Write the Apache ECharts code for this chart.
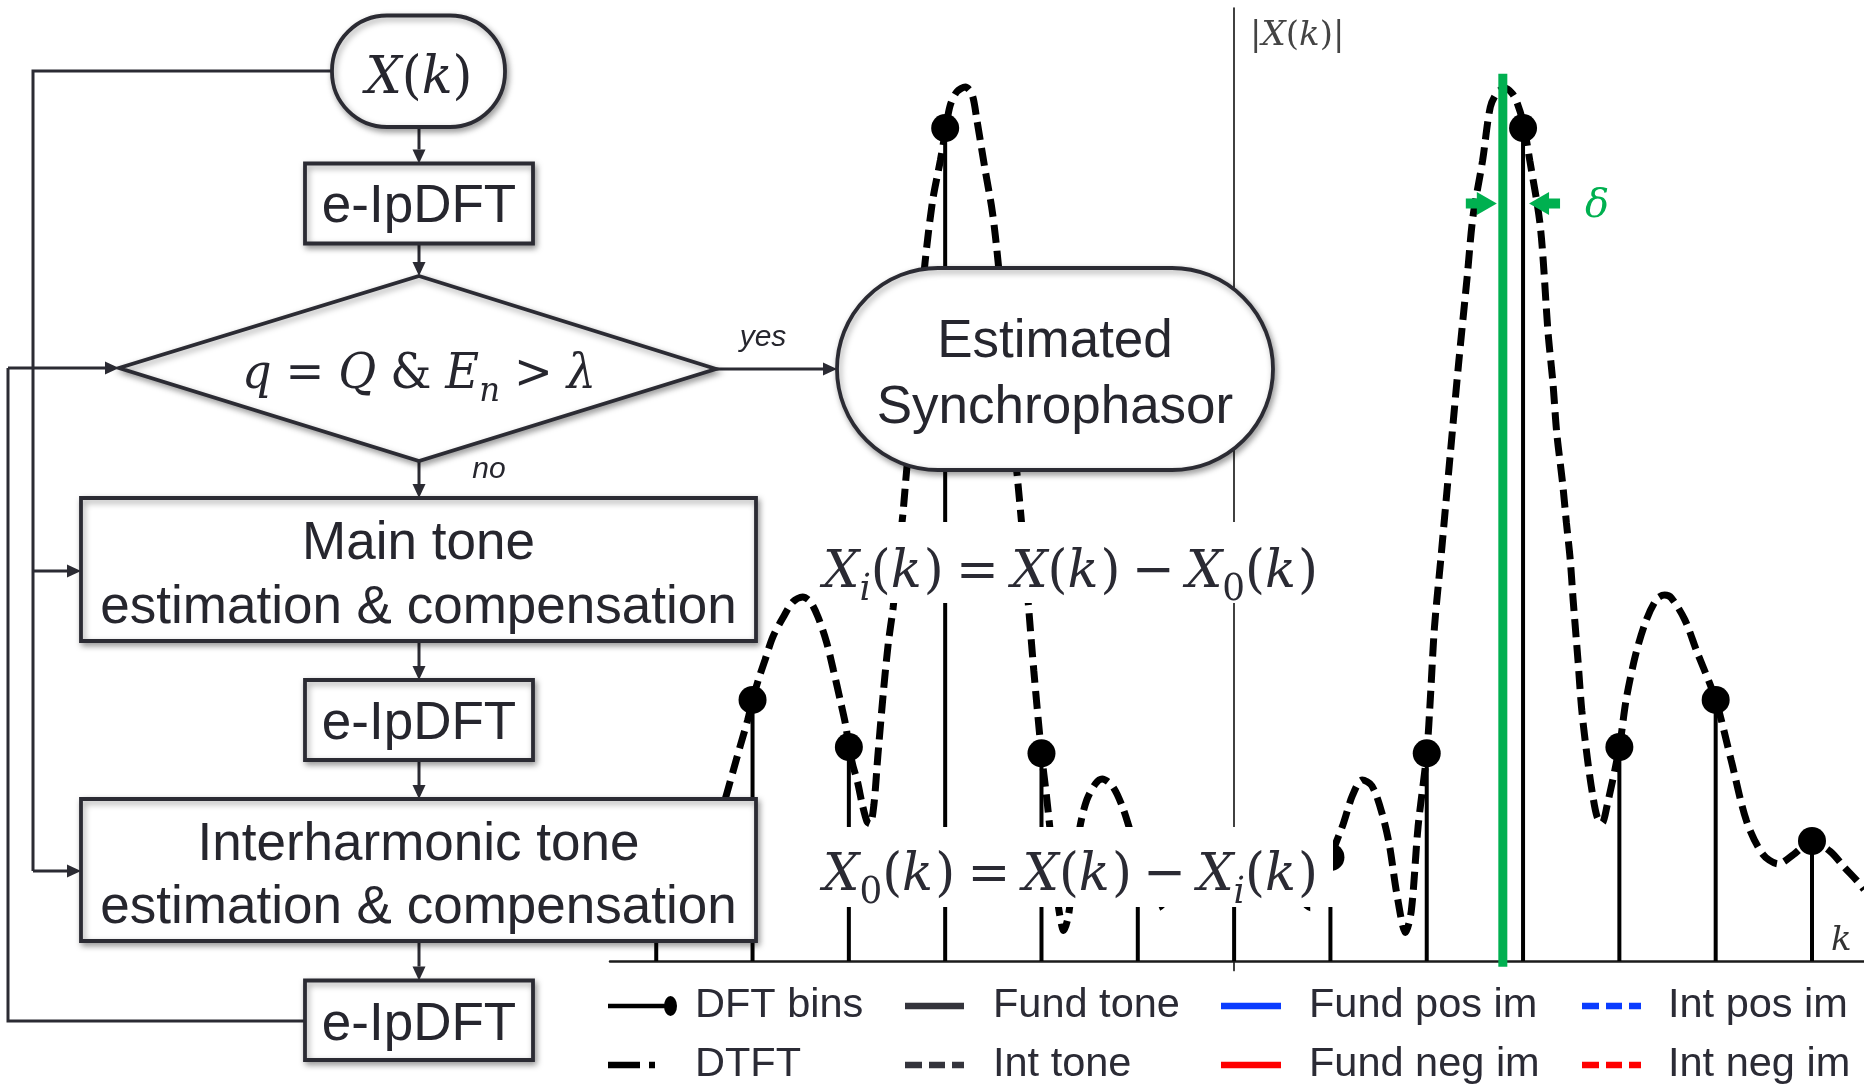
<!DOCTYPE html>
<html>
<head>
<meta charset="utf-8">
<script src="https://cdn.jsdelivr.net/npm/echarts@6/dist/echarts.min.js"></script>
<style>
  html, body { margin: 0; padding: 0; background: #fff; }
  #chart { width: 1864px; height: 1084px; }
</style>
</head>
<body>
<div id="chart"></div>
<script>
// ---- spectrum data (bin index k, magnitude |X(k)|) ----
const binK   = [-6, -5, -4, -3, -2, -1, 0, 1, 2, 3, 4, 5, 6];
const binMag = [0.126, 0.274, 0.2245, 0.874, 0.218, 0.109, 0.1165, 0.109, 0.218, 0.874, 0.2245, 0.274, 0.126];

// DTFT magnitude, sampled along k
const dtftK = [
  -6.47, -6.34, -6.19, -6.0, -5.77, -5.62, -5.45, -5.36, -5.25, -5.2, -5.13, -5.05, -5.0,
  -4.94, -4.87, -4.79, -4.68, -4.58, -4.48, -4.4, -4.32, -4.23, -4.16, -4.09, -4.03, -4.0,
  -3.96, -3.91, -3.86, -3.81, -3.78, -3.74, -3.7, -3.64, -3.59, -3.54, -3.49, -3.44, -3.4,
  -3.33, -3.27, -3.21, -3.13, -3.05, -3.0, -2.95, -2.88, -2.79, -2.72, -2.67, -2.59, -2.51,
  -2.45, -2.38, -2.31, -2.25, -2.2, -2.14, -2.08, -2.0, -1.95, -1.91, -1.86, -1.81, -1.77,
  -1.72, -1.66, -1.6, -1.53, -1.44, -1.37, -1.26, -1.16, -1.08, -1.0, -0.89, -0.79, -0.67,
  -0.46, -0.23, 0, 0.23, 0.46, 0.67, 0.79, 0.89, 1.0, 1.13, 1.23, 1.33, 1.43, 1.53, 1.61,
  1.69, 1.78, 1.84, 1.91, 2.0, 2.04, 2.08, 2.15, 2.24, 2.33, 2.42, 2.48, 2.58, 2.66, 2.73,
  2.81, 2.89, 2.94, 3.0, 3.07, 3.18, 3.26, 3.31, 3.35, 3.41, 3.45, 3.49, 3.52, 3.57, 3.61,
  3.67, 3.72, 3.77, 3.82, 3.87, 4.0, 4.07, 4.17, 4.28, 4.39, 4.47, 4.54, 4.68, 4.8, 5.0,
  5.16, 5.32, 5.49, 5.65, 5.81, 6.0, 6.19, 6.34, 6.47, 6.54
];
const dtftMag = [
  0.084, 0.098, 0.115, 0.126, 0.112, 0.102, 0.114, 0.143, 0.182, 0.2, 0.225, 0.253, 0.274,
  0.295, 0.316, 0.34, 0.361, 0.377, 0.382, 0.377, 0.361, 0.334, 0.305, 0.274, 0.246, 0.2245,
  0.206, 0.188, 0.164, 0.146, 0.144, 0.164, 0.214, 0.284, 0.334, 0.371, 0.421, 0.468, 0.515,
  0.589, 0.662, 0.732, 0.798, 0.84, 0.869, 0.897, 0.912, 0.917, 0.909, 0.882, 0.833, 0.786,
  0.733, 0.652, 0.568, 0.507, 0.452, 0.379, 0.305, 0.218, 0.175, 0.137, 0.085, 0.048, 0.032,
  0.048, 0.098, 0.141, 0.169, 0.186, 0.191, 0.183, 0.162, 0.137, 0.109, 0.075, 0.056, 0.068,
  0.098, 0.113, 0.1165, 0.113, 0.098, 0.068, 0.056, 0.075, 0.109, 0.143, 0.174, 0.19, 0.184, 0.157, 0.123,
  0.07, 0.03, 0.053, 0.141, 0.218, 0.28, 0.35, 0.426, 0.527, 0.626, 0.718, 0.781, 0.84, 0.896, 0.911,
  0.916, 0.91, 0.9, 0.88, 0.84, 0.77, 0.659, 0.607, 0.554, 0.502, 0.46, 0.421, 0.379, 0.316, 0.263,
  0.211, 0.176, 0.151, 0.145, 0.162, 0.2245, 0.274, 0.322, 0.358, 0.38, 0.384, 0.381, 0.358, 0.326, 0.274,
  0.211, 0.147, 0.112, 0.102, 0.112, 0.126, 0.115, 0.098, 0.084, 0.075
];

// estimated fundamental location (in bins) and the height of its marker
const fundK = 2.79;
const fundTop = 0.931;
const deltaArrowMag = 0.795;

// legend columns
const legendCols = [
  ['DFT bins', 'DTFT'],
  ['Fund tone', 'Int tone'],
  ['Fund pos im', 'Fund neg im'],
  ['Int pos im', 'Int neg im']
];

// ---- styling ----
const INK = '#2b2b33';
const TXT = '#26262e';
const SANS = 'Liberation Sans, Arial, sans-serif';
const SERIF = 'DejaVu Serif';
const BLUE = '#0a3cff';
const RED = '#ff0000';
const GREEN = '#00b050';

// legend icon helper: pads the path's bounds to the full item box
function icon(body, w) {
  return 'path://M0,0L0.01,0L0,0.01Z M' + w + ',20L' + (w - 0.01) + ',20L' + w + ',19.99Z ' + body;
}
function bar(x0, x1, h) {
  const y0 = 10 - h / 2, y1 = 10 + h / 2;
  return 'M' + x0 + ',' + y0 + 'L' + x1 + ',' + y0 + 'L' + x1 + ',' + y1 + 'L' + x0 + ',' + y1 + 'Z ';
}
const dashed3 = bar(0, 17, 6.6) + bar(24, 40, 6.6) + bar(47, 59, 6.6);
const ICONS = {
  'DFT bins': icon(bar(0, 57, 4.5) + 'M62.5,0A6.5,10 0 1,1 62.5,20A6.5,10 0 1,1 62.5,0Z', 82),
  'DTFT': icon(bar(0, 32, 6.6) + bar(41, 47, 6.6), 82),
  'Fund tone': icon(bar(0, 59, 6.6), 83),
  'Int tone': icon(dashed3, 83),
  'Fund pos im': icon(bar(0, 60, 6.6), 83),
  'Fund neg im': icon(bar(0, 60, 6.6), 83),
  'Int pos im': icon(dashed3, 81),
  'Int neg im': icon(dashed3, 81)
};
const colLeft = [608, 905, 1221, 1582];
const colItemW = [82, 83, 83, 81];

const chart = echarts.init(document.getElementById('chart'), null, { renderer: 'canvas' });

const option = {
  backgroundColor: '#fff',
  animation: false,
  grid: { left: 610, right: 0, top: 8, bottom: 113.4, containLabel: false, outerBoundsMode: 'none' },
  xAxis: {
    type: 'value', min: -6.48, max: 6.54,
    axisLine: { onZero: true, lineStyle: { color: '#1c1c1c', width: 2.5 } },
    axisTick: { show: false }, axisLabel: { show: false }, splitLine: { show: false },
    name: 'k', nameLocation: 'end', nameGap: -33,
    nameTextStyle: { fontFamily: SERIF, fontStyle: 'italic', fontSize: 34, color: '#333',
      align: 'left', verticalAlign: 'bottom', padding: [0, 0, 3, 0] }
  },
  yAxis: {
    type: 'value', min: -0.01, max: 1.0,
    axisLine: { show: true, onZero: true, lineStyle: { color: '#111', width: 1.6 } },
    axisTick: { show: false }, axisLabel: { show: false }, splitLine: { show: false },
    name: '{b||}{v|X}{b|(}{v|k}{b|)}{b||}', nameLocation: 'end', nameGap: -28,
    nameTextStyle: {
      align: 'left', verticalAlign: 'middle', padding: [0, 0, 0, 16],
      rich: {
        b: { fontFamily: SERIF, fontSize: 34, color: '#444' },
        v: { fontFamily: SERIF, fontStyle: 'italic', fontSize: 34, color: '#444' }
      }
    }
  },
  legend: legendCols.map((names, c) => ({
    orient: 'vertical', left: colLeft[c], top: 985, height: 200, padding: 0,
    itemWidth: colItemW[c], itemHeight: 20, itemGap: 17, selectedMode: false,
    itemStyle: { borderWidth: 0 },
    textStyle: { fontFamily: SANS, fontSize: 41.5, color: '#2b2b35', lineHeight: 40 },
    data: names.map(n => ({ name: n, icon: ICONS[n] }))
  })),
  series: [
    {
      name: 'DTFT', type: 'line', z: 3, silent: true,
      data: dtftK.map((k, i) => [k, dtftMag[i]]),
      smooth: 0.3, showSymbol: false, symbol: 'none',
      itemStyle: { color: '#000' },
      lineStyle: { color: '#000', width: 7, type: [18, 8], cap: 'butt' }
    },
    {
      name: 'DFT bins', type: 'custom', z: 5, silent: true,
      itemStyle: { color: '#000' },
      data: binK.map((k, i) => [k, binMag[i]]),
      renderItem: (params, api) => {
        const base = api.coord([api.value(0), 0]);
        const top = api.coord([api.value(0), api.value(1)]);
        return {
          type: 'group',
          children: [
            { type: 'line', shape: { x1: base[0], y1: base[1], x2: top[0], y2: top[1] },
              style: { stroke: '#000', lineWidth: 4 } },
            { type: 'circle', shape: { cx: top[0], cy: top[1], r: 14 }, style: { fill: '#000' } }
          ]
        };
      }
    },
    { name: 'Fund tone', type: 'line', data: [], itemStyle: { color: '#34343c' }, lineStyle: { color: '#34343c' } },
    { name: 'Int tone', type: 'line', data: [], itemStyle: { color: '#34343c' }, lineStyle: { color: '#34343c', type: 'dashed' } },
    { name: 'Fund pos im', type: 'line', data: [], itemStyle: { color: BLUE }, lineStyle: { color: BLUE } },
    { name: 'Fund neg im', type: 'line', data: [], itemStyle: { color: RED }, lineStyle: { color: RED } },
    { name: 'Int pos im', type: 'line', data: [], itemStyle: { color: BLUE }, lineStyle: { color: BLUE, type: 'dashed' } },
    { name: 'Int neg im', type: 'line', data: [], itemStyle: { color: RED }, lineStyle: { color: RED, type: 'dashed' } },
    {
      name: 'fund-estimate', type: 'line', z: 6, silent: true,
      data: [[fundK, -0.006], [fundK, fundTop]],
      symbol: 'none', itemStyle: { color: GREEN },
      lineStyle: { color: GREEN, width: 9, cap: 'butt' }
    }
  ]
};
chart.setOption(option);

// ---- text measuring for formula layout ----
const mctx = document.createElement('canvas').getContext('2d');
function measure(str, size, italic) {
  mctx.font = (italic ? 'italic ' : '') + size + 'px "' + SERIF + '"';
  return mctx.measureText(str).width;
}
// lays out a formula at font size `size`, squeezed horizontally to `width`, centred on (cx, cy)
function formula(pieces, cx, cy, size, width, color, z) {
  let x = 0;
  const kids = [];
  pieces.forEach(p => {
    const fs = p.sub ? size * 0.7 : size;
    x += (p.pre || 0) * size;
    kids.push({
      type: 'text', z: z,
      style: {
        text: p.t, x: x, y: p.sub ? size * 0.33 : 0,
        fontFamily: SERIF, fontStyle: p.it ? 'italic' : 'normal', fontSize: fs,
        fill: color, align: 'left', verticalAlign: 'middle'
      }
    });
    x += measure(p.t, fs, p.it) + (p.post || 0) * size;
  });
  const sx = width / x;
  return { type: 'group', x: cx - width / 2, y: cy, scaleX: sx, children: kids };
}

// ---- flowchart ----
const boxStyle = {
  fill: '#fff', stroke: INK, lineWidth: 3.8,
  shadowBlur: 6, shadowColor: 'rgba(0,0,0,0.35)', shadowOffsetX: 2, shadowOffsetY: 3
};
function box(x, y, w, h, r) {
  return { type: 'rect', z: 100, shape: { x: x, y: y, width: w, height: h, r: r || 0 }, style: boxStyle };
}
function label(text, x, y, size, italic) {
  return {
    type: 'text', z: 101,
    style: { text: text, x: x, y: y, fontFamily: SANS, fontSize: size, fontStyle: italic ? 'italic' : 'normal',
      fill: TXT, align: 'center', verticalAlign: 'middle' }
  };
}
function arrow(x1, y1, x2, y2) {
  const L = 14, W = 6.5;
  const len = Math.hypot(x2 - x1, y2 - y1);
  const ux = (x2 - x1) / len, uy = (y2 - y1) / len;
  const bx = x2 - ux * L, by = y2 - uy * L;
  return [
    { type: 'line', z: 99, shape: { x1: x1, y1: y1, x2: bx, y2: by }, style: { stroke: INK, lineWidth: 3 } },
    { type: 'polygon', z: 99, shape: { points: [[x2, y2], [bx - uy * W, by + ux * W], [bx + uy * W, by - ux * W]] },
      style: { fill: INK } }
  ];
}
function wire(points) {
  return { type: 'polyline', z: 99, shape: { points: points }, style: { stroke: INK, lineWidth: 3, fill: null } };
}

const els = [];
// connectors
els.push(wire([[332, 71], [33, 71], [33, 871]]));
els.push(...arrow(33, 871, 81, 871));
els.push(...arrow(33, 571, 81, 571));
els.push(wire([[305, 1021], [8, 1021], [8, 368]]));
els.push(...arrow(8, 368, 119, 368));
els.push(...arrow(419, 127, 419, 163.5));
els.push(...arrow(419, 243.5, 419, 276));
els.push(...arrow(419, 461, 419, 498));
els.push(...arrow(419, 641, 419, 680));
els.push(...arrow(419, 760, 419, 799));
els.push(...arrow(419, 941, 419, 980.5));
els.push(...arrow(716, 369, 837, 369));

// blocks
els.push(box(332, 15.5, 173, 111.5, 55));
els.push(box(305, 163.5, 228, 80));
els.push({ type: 'polygon', z: 100, shape: { points: [[419, 276], [716, 369], [419, 461], [119, 368]] }, style: boxStyle });
els.push(box(81, 498, 675, 143));
els.push(box(305, 680, 228, 80));
els.push(box(81, 799, 675, 142));
els.push(box(305, 980.5, 228, 79.5));
els.push(box(837, 268, 436, 202, 101));

// block labels
els.push(formula([{ t: 'X', it: 1 }, { t: '(' }, { t: 'k', it: 1 }, { t: ')' }], 419, 79, 52, 107, TXT, 101));
els.push(label('e-IpDFT', 419, 207, 53));
els.push(formula([
  { t: 'q', it: 1 }, { t: '=', pre: 0.3, post: 0.3 }, { t: 'Q', it: 1 }, { t: '&', pre: 0.3, post: 0.3 },
  { t: 'E', it: 1 }, { t: 'n', it: 1, sub: 1 }, { t: '>', pre: 0.3, post: 0.3 }, { t: 'λ', it: 1 }
], 419, 376, 48, 354, TXT, 101));
els.push(label('yes', 763, 338, 30, true));
els.push(label('no', 489, 470, 30, true));
els.push(label('Main tone', 418.5, 544, 53));
els.push(label('estimation & compensation', 418.5, 608, 53));
els.push(label('e-IpDFT', 419, 724, 53));
els.push(label('Interharmonic tone', 418.5, 845, 53));
els.push(label('estimation & compensation', 418.5, 908, 53));
els.push(label('e-IpDFT', 419, 1025, 53));
els.push(label('Estimated', 1055, 342, 53));
els.push(label('Synchrophasor', 1055, 408, 53));

// residual formulas on white panels
els.push({ type: 'rect', z: 90, shape: { x: 818, y: 522, width: 515, height: 81 }, style: { fill: '#fff' } });
els.push({ type: 'rect', z: 90, shape: { x: 818, y: 827, width: 515, height: 80 }, style: { fill: '#fff' } });
els.push(formula([
  { t: 'X', it: 1 }, { t: 'i', it: 1, sub: 1 }, { t: '(' }, { t: 'k', it: 1, post: 0.04 }, { t: ')' },
  { t: '=', pre: 0.24, post: 0.24 },
  { t: 'X', it: 1 }, { t: '(' }, { t: 'k', it: 1, post: 0.04 }, { t: ')' },
  { t: '−', pre: 0.22, post: 0.22 },
  { t: 'X', it: 1 }, { t: '0', sub: 1 }, { t: '(' }, { t: 'k', it: 1, post: 0.04 }, { t: ')' }
], 1070.5, 573, 53, 495, '#2a2a33', 91));
els.push(formula([
  { t: 'X', it: 1 }, { t: '0', sub: 1 }, { t: '(' }, { t: 'k', it: 1, post: 0.04 }, { t: ')' },
  { t: '=', pre: 0.24, post: 0.24 },
  { t: 'X', it: 1 }, { t: '(' }, { t: 'k', it: 1, post: 0.04 }, { t: ')' },
  { t: '−', pre: 0.22, post: 0.22 },
  { t: 'X', it: 1 }, { t: 'i', it: 1, sub: 1 }, { t: '(' }, { t: 'k', it: 1, post: 0.04 }, { t: ')' }
], 1070.5, 876, 53, 495, '#2a2a33', 91));

// δ marker: arrows between the estimated fundamental and the nearest bin
const pF = chart.convertToPixel({ gridIndex: 0 }, [fundK, deltaArrowMag]);
const pB = chart.convertToPixel({ gridIndex: 0 }, [3, deltaArrowMag]);
const ay = pF[1];
const tl = pF[0] - 6, tr = pB[0] + 6;
els.push({ type: 'polygon', z: 10, shape: { points: [
  [tl - 31, ay - 5], [tl - 20, ay - 5], [tl - 20, ay - 11.5], [tl, ay], [tl - 20, ay + 11.5], [tl - 20, ay + 5], [tl - 31, ay + 5]
] }, style: { fill: GREEN } });
els.push({ type: 'polygon', z: 10, shape: { points: [
  [tr + 31, ay - 5], [tr + 20, ay - 5], [tr + 20, ay - 11.5], [tr, ay], [tr + 20, ay + 11.5], [tr + 20, ay + 5], [tr + 31, ay + 5]
] }, style: { fill: GREEN } });
els.push({ type: 'text', z: 10, style: { text: 'δ', x: pB[0] + 62, y: ay + 3, fontFamily: SERIF, fontStyle: 'italic',
  fontSize: 40, fill: GREEN, align: 'left', verticalAlign: 'middle' } });

chart.setOption({ graphic: els });
</script>
</body>
</html>
